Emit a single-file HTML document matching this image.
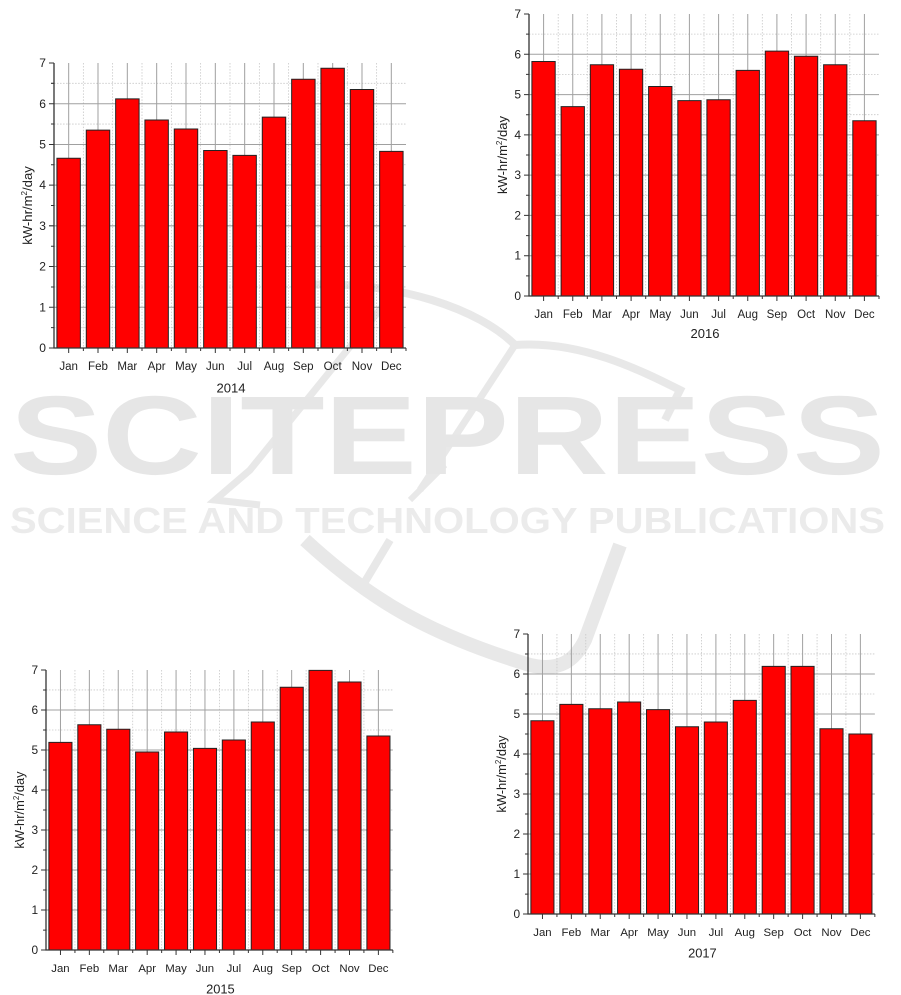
<!DOCTYPE html>
<html><head><meta charset="utf-8"><style>html,body{margin:0;padding:0;background:#fff}svg{display:block}text{font-family:"Liberation Sans",Arial,sans-serif;fill:#222}</style></head><body>
<svg width="901" height="995" viewBox="0 0 901 995" xmlns="http://www.w3.org/2000/svg">
<defs>
<g id="grid">
<path d="M0 261.9H350M0 221.6H350M0 181.3H350M0 141H350M0 100.7H350M0 60.4H350M0 20.1H350M29.2 0V282M58.3 0V282M87.5 0V282M116.7 0V282M145.8 0V282M175 0V282M204.2 0V282M233.3 0V282M262.5 0V282M291.7 0V282M320.8 0V282" stroke="#c8c8c8" stroke-width="0.8" stroke-dasharray="1.5,1.5" fill="none"/>
<path d="M0 241.7H350M0 201.4H350M0 161.1H350M0 120.9H350M0 80.6H350M0 40.3H350M14.6 0V282M43.75 0V282M72.9 0V282M102.1 0V282M131.25 0V282M160.4 0V282M189.6 0V282M218.75 0V282M247.9 0V282M277.1 0V282M306.25 0V282M335.4 0V282" stroke="#a0a0a0" stroke-width="1" fill="none"/>
</g>
<g id="axes">
<path d="M0 0V282H350" stroke="#333" stroke-width="1.3" fill="none"/>
<path d="M0 282h-5M0 241.7h-5M0 201.4h-5M0 161.1h-5M0 120.9h-5M0 80.6h-5M0 40.3h-5M0 0h-5M0 261.9h-3M0 221.6h-3M0 181.3h-3M0 141h-3M0 100.7h-3M0 60.4h-3M0 20.1h-3M14.6 282v5M43.75 282v5M72.9 282v5M102.1 282v5M131.25 282v5M160.4 282v5M189.6 282v5M218.75 282v5M247.9 282v5M277.1 282v5M306.25 282v5M335.4 282v5M29.2 282v3M58.3 282v3M87.5 282v3M116.7 282v3M145.8 282v3M175 282v3M204.2 282v3M233.3 282v3M262.5 282v3M291.7 282v3M320.8 282v3M350 282v3" stroke="#333" stroke-width="1" fill="none"/>
</g>
</defs>

<!-- watermark -->
<g fill="none" stroke="#e8e8e8">
<path d="M300 285 C400 280 480 310 515 345 C580 340 640 370 680 390 L665 420" stroke-width="8"/>
<path d="M515 345 L420 490" stroke-width="7"/>
<path d="M400 285 L250 470 L215 500 L260 505" stroke-width="7"/>
<path d="M445 465 L410 500" stroke-width="6"/>
<path d="M305 540 C370 600 430 635 530 665 C560 672 575 660 585 640 L620 545" stroke-width="14"/>
<path d="M390 540 L360 590" stroke-width="8"/>
</g>
<text x="10" y="474" font-size="112" font-weight="bold" textLength="875" lengthAdjust="spacingAndGlyphs" style="fill:#e6e6e6">SCITEPRESS</text>
<text x="10" y="533" font-size="36" font-weight="bold" textLength="875" lengthAdjust="spacingAndGlyphs" style="fill:#ebebeb">SCIENCE AND TECHNOLOGY PUBLICATIONS</text>

<!-- 2014 -->
<g transform="translate(54,63) scale(1.0057,1.0106)">
<use href="#grid"/>
<g transform="translate(0,282) scale(1,-40.2857)" fill="#ff0000" stroke="#222" stroke-width="1">
<rect x="2.9" width="23.3" height="4.66" vector-effect="non-scaling-stroke"/><rect x="32.1" width="23.3" height="5.35" vector-effect="non-scaling-stroke"/><rect x="61.3" width="23.3" height="6.12" vector-effect="non-scaling-stroke"/><rect x="90.4" width="23.3" height="5.60" vector-effect="non-scaling-stroke"/><rect x="119.6" width="23.3" height="5.38" vector-effect="non-scaling-stroke"/><rect x="148.8" width="23.3" height="4.85" vector-effect="non-scaling-stroke"/><rect x="177.9" width="23.3" height="4.73" vector-effect="non-scaling-stroke"/><rect x="207.1" width="23.3" height="5.67" vector-effect="non-scaling-stroke"/><rect x="236.3" width="23.3" height="6.60" vector-effect="non-scaling-stroke"/><rect x="265.4" width="23.3" height="6.87" vector-effect="non-scaling-stroke"/><rect x="294.6" width="23.3" height="6.35" vector-effect="non-scaling-stroke"/><rect x="323.8" width="23.3" height="4.83" vector-effect="non-scaling-stroke"/>
</g>
<use href="#axes"/>
<g font-size="12" text-anchor="end"><text x="-8" y="286">0</text><text x="-8" y="245.7">1</text><text x="-8" y="205.4">2</text><text x="-8" y="165.1">3</text><text x="-8" y="124.9">4</text><text x="-8" y="84.6">5</text><text x="-8" y="44.3">6</text><text x="-8" y="4">7</text></g>
<g font-size="11.5" text-anchor="middle"><text x="14.6" y="304">Jan</text><text x="43.75" y="304">Feb</text><text x="72.9" y="304">Mar</text><text x="102.1" y="304">Apr</text><text x="131.25" y="304">May</text><text x="160.4" y="304">Jun</text><text x="189.6" y="304">Jul</text><text x="218.75" y="304">Aug</text><text x="247.9" y="304">Sep</text><text x="277.1" y="304">Oct</text><text x="306.25" y="304">Nov</text><text x="335.4" y="304">Dec</text><text x="176" y="326" font-size="13">2014</text></g>
<text transform="translate(-22,141) rotate(-90)" font-size="13" text-anchor="middle">kW-hr/m<tspan font-size="8" dy="-5">2</tspan><tspan dy="5">/day</tspan></text>
</g>

<!-- 2016 -->
<g transform="translate(529,14)">
<use href="#grid"/>
<g transform="translate(0,282) scale(1,-40.2857)" fill="#ff0000" stroke="#222" stroke-width="1">
<rect x="2.9" width="23.3" height="5.82" vector-effect="non-scaling-stroke"/><rect x="32.1" width="23.3" height="4.70" vector-effect="non-scaling-stroke"/><rect x="61.3" width="23.3" height="5.74" vector-effect="non-scaling-stroke"/><rect x="90.4" width="23.3" height="5.63" vector-effect="non-scaling-stroke"/><rect x="119.6" width="23.3" height="5.20" vector-effect="non-scaling-stroke"/><rect x="148.8" width="23.3" height="4.85" vector-effect="non-scaling-stroke"/><rect x="177.9" width="23.3" height="4.87" vector-effect="non-scaling-stroke"/><rect x="207.1" width="23.3" height="5.60" vector-effect="non-scaling-stroke"/><rect x="236.3" width="23.3" height="6.08" vector-effect="non-scaling-stroke"/><rect x="265.4" width="23.3" height="5.95" vector-effect="non-scaling-stroke"/><rect x="294.6" width="23.3" height="5.74" vector-effect="non-scaling-stroke"/><rect x="323.8" width="23.3" height="4.35" vector-effect="non-scaling-stroke"/>
</g>
<use href="#axes"/>
<g font-size="12" text-anchor="end"><text x="-8" y="286">0</text><text x="-8" y="245.7">1</text><text x="-8" y="205.4">2</text><text x="-8" y="165.1">3</text><text x="-8" y="124.9">4</text><text x="-8" y="84.6">5</text><text x="-8" y="44.3">6</text><text x="-8" y="4">7</text></g>
<g font-size="11.5" text-anchor="middle"><text x="14.6" y="304">Jan</text><text x="43.75" y="304">Feb</text><text x="72.9" y="304">Mar</text><text x="102.1" y="304">Apr</text><text x="131.25" y="304">May</text><text x="160.4" y="304">Jun</text><text x="189.6" y="304">Jul</text><text x="218.75" y="304">Aug</text><text x="247.9" y="304">Sep</text><text x="277.1" y="304">Oct</text><text x="306.25" y="304">Nov</text><text x="335.4" y="304">Dec</text><text x="176" y="324" font-size="13">2016</text></g>
<text transform="translate(-22,141) rotate(-90)" font-size="13" text-anchor="middle">kW-hr/m<tspan font-size="8" dy="-5">2</tspan><tspan dy="5">/day</tspan></text>
</g>

<!-- 2015 -->
<g transform="translate(46,670) scale(0.991,0.993)">
<use href="#grid"/>
<g transform="translate(0,282) scale(1,-40.2857)" fill="#ff0000" stroke="#222" stroke-width="1">
<rect x="2.9" width="23.3" height="5.19" vector-effect="non-scaling-stroke"/><rect x="32.1" width="23.3" height="5.63" vector-effect="non-scaling-stroke"/><rect x="61.3" width="23.3" height="5.52" vector-effect="non-scaling-stroke"/><rect x="90.4" width="23.3" height="4.95" vector-effect="non-scaling-stroke"/><rect x="119.6" width="23.3" height="5.45" vector-effect="non-scaling-stroke"/><rect x="148.8" width="23.3" height="5.04" vector-effect="non-scaling-stroke"/><rect x="177.9" width="23.3" height="5.25" vector-effect="non-scaling-stroke"/><rect x="207.1" width="23.3" height="5.70" vector-effect="non-scaling-stroke"/><rect x="236.3" width="23.3" height="6.57" vector-effect="non-scaling-stroke"/><rect x="265.4" width="23.3" height="6.99" vector-effect="non-scaling-stroke"/><rect x="294.6" width="23.3" height="6.70" vector-effect="non-scaling-stroke"/><rect x="323.8" width="23.3" height="5.35" vector-effect="non-scaling-stroke"/>
</g>
<use href="#axes"/>
<g font-size="12" text-anchor="end"><text x="-8" y="286">0</text><text x="-8" y="245.7">1</text><text x="-8" y="205.4">2</text><text x="-8" y="165.1">3</text><text x="-8" y="124.9">4</text><text x="-8" y="84.6">5</text><text x="-8" y="44.3">6</text><text x="-8" y="4">7</text></g>
<g font-size="11.5" text-anchor="middle"><text x="14.6" y="304">Jan</text><text x="43.75" y="304">Feb</text><text x="72.9" y="304">Mar</text><text x="102.1" y="304">Apr</text><text x="131.25" y="304">May</text><text x="160.4" y="304">Jun</text><text x="189.6" y="304">Jul</text><text x="218.75" y="304">Aug</text><text x="247.9" y="304">Sep</text><text x="277.1" y="304">Oct</text><text x="306.25" y="304">Nov</text><text x="335.4" y="304">Dec</text><text x="176" y="326" font-size="13">2015</text></g>
<text transform="translate(-22,141) rotate(-90)" font-size="13" text-anchor="middle">kW-hr/m<tspan font-size="8" dy="-5">2</tspan><tspan dy="5">/day</tspan></text>
</g>

<!-- 2017 -->
<g transform="translate(528,634) scale(0.991,0.993)">
<use href="#grid"/>
<g transform="translate(0,282) scale(1,-40.2857)" fill="#ff0000" stroke="#222" stroke-width="1">
<rect x="2.9" width="23.3" height="4.83" vector-effect="non-scaling-stroke"/><rect x="32.1" width="23.3" height="5.24" vector-effect="non-scaling-stroke"/><rect x="61.3" width="23.3" height="5.13" vector-effect="non-scaling-stroke"/><rect x="90.4" width="23.3" height="5.30" vector-effect="non-scaling-stroke"/><rect x="119.6" width="23.3" height="5.11" vector-effect="non-scaling-stroke"/><rect x="148.8" width="23.3" height="4.68" vector-effect="non-scaling-stroke"/><rect x="177.9" width="23.3" height="4.80" vector-effect="non-scaling-stroke"/><rect x="207.1" width="23.3" height="5.34" vector-effect="non-scaling-stroke"/><rect x="236.3" width="23.3" height="6.19" vector-effect="non-scaling-stroke"/><rect x="265.4" width="23.3" height="6.19" vector-effect="non-scaling-stroke"/><rect x="294.6" width="23.3" height="4.63" vector-effect="non-scaling-stroke"/><rect x="323.8" width="23.3" height="4.50" vector-effect="non-scaling-stroke"/>
</g>
<use href="#axes"/>
<g font-size="12" text-anchor="end"><text x="-8" y="286">0</text><text x="-8" y="245.7">1</text><text x="-8" y="205.4">2</text><text x="-8" y="165.1">3</text><text x="-8" y="124.9">4</text><text x="-8" y="84.6">5</text><text x="-8" y="44.3">6</text><text x="-8" y="4">7</text></g>
<g font-size="11.5" text-anchor="middle"><text x="14.6" y="304">Jan</text><text x="43.75" y="304">Feb</text><text x="72.9" y="304">Mar</text><text x="102.1" y="304">Apr</text><text x="131.25" y="304">May</text><text x="160.4" y="304">Jun</text><text x="189.6" y="304">Jul</text><text x="218.75" y="304">Aug</text><text x="247.9" y="304">Sep</text><text x="277.1" y="304">Oct</text><text x="306.25" y="304">Nov</text><text x="335.4" y="304">Dec</text><text x="176" y="326" font-size="13">2017</text></g>
<text transform="translate(-22,141) rotate(-90)" font-size="13" text-anchor="middle">kW-hr/m<tspan font-size="8" dy="-5">2</tspan><tspan dy="5">/day</tspan></text>
</g>
</svg>
</body></html>
